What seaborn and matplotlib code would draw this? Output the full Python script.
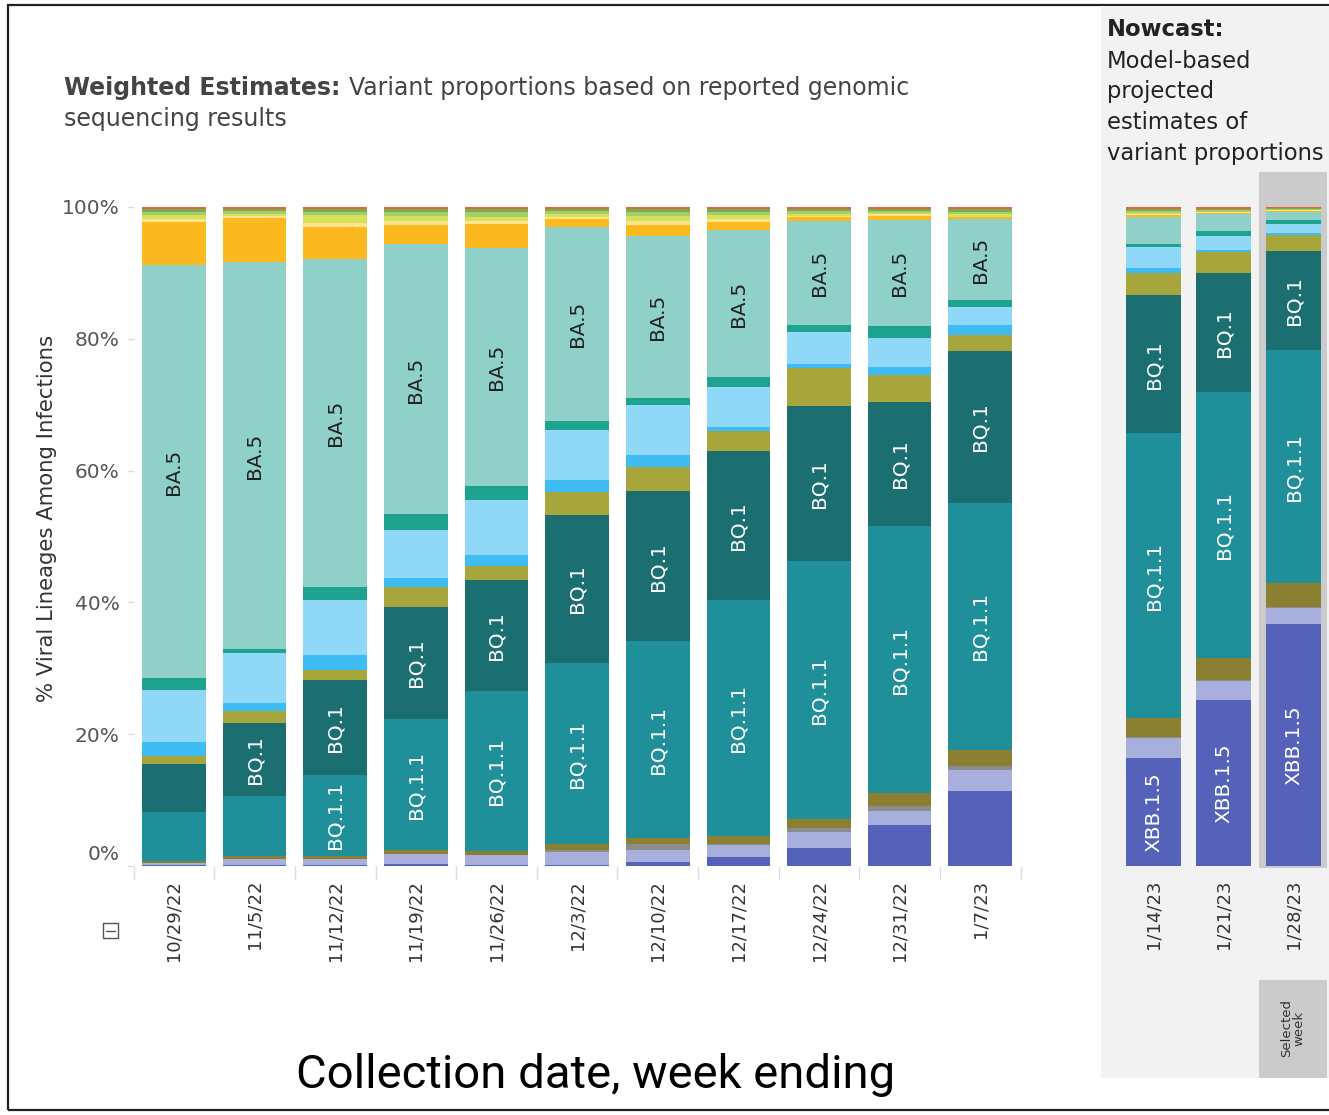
import numpy as np
import pandas as pd
import seaborn as sns
import matplotlib
matplotlib.use("Agg")
import matplotlib.pyplot as plt
from matplotlib.patches import Rectangle
from matplotlib.transforms import ScaledTranslation

# ---------------- data ----------------
weeks = ["10/29/22", "11/5/22", "11/12/22", "11/19/22", "11/26/22", "12/3/22",
         "12/10/22", "12/17/22", "12/24/22", "12/31/22", "1/7/23"]
nowcast_weeks = ["1/14/23", "1/21/23", "1/28/23"]

# proportions (%), stacked bottom -> top; 11 weighted weeks followed by 3 nowcast weeks
xbb_1_5  = [0.1, 0.2, 0.2, 0.3, 0.2, 0.1, 0.6, 1.3, 2.8, 6.2, 11.5, 16.4, 25.2, 36.8]
xbb      = [0.3, 0.8, 0.8, 1.5, 1.4, 2.1, 1.8, 1.9, 2.4, 2.2, 3.1, 3.0, 2.9, 2.3]
other    = [0.1, 0.1, 0.1, 0.1, 0.1, 0.3, 0.9, 0.1, 0.6, 0.7, 0.6, 0.2, 0.2, 0.2]
bn_1     = [0.3, 0.4, 0.4, 0.5, 0.6, 0.8, 1.0, 1.2, 1.3, 2.1, 2.5, 2.9, 3.3, 3.6]
bq_1_1   = [7.4, 9.1, 12.4, 20.0, 24.3, 27.5, 29.9, 35.9, 39.3, 40.6, 37.7, 43.3, 40.3, 35.5]
bq_1     = [7.3, 11.2, 14.4, 17.0, 16.9, 22.5, 22.8, 22.7, 23.7, 19.0, 23.1, 21.0, 18.1, 14.9]
bf_7     = [1.2, 1.8, 1.5, 3.0, 2.1, 3.4, 3.7, 3.1, 5.7, 4.1, 2.5, 3.4, 3.1, 2.5]
ba_5_2_6 = [2.1, 1.2, 2.3, 1.5, 1.7, 1.9, 1.9, 0.6, 0.7, 1.2, 1.5, 0.8, 0.4, 0.35]
bf_11    = [7.9, 7.6, 8.3, 7.3, 8.3, 7.5, 7.5, 6.0, 4.9, 4.4, 2.8, 3.1, 2.1, 1.3]
ba_2_75  = [1.8, 0.6, 2.0, 2.3, 2.2, 1.5, 1.2, 1.5, 1.0, 1.8, 1.0, 0.5, 0.7, 0.6]
ba_5     = [62.7, 58.9, 49.9, 41.1, 36.2, 29.3, 24.6, 22.4, 15.8, 16.2, 12.4, 4.1, 2.6, 1.3]
ba_4_6   = [6.5, 6.7, 4.9, 3.0, 3.6, 1.3, 1.7, 1.2, 0.7, 0.7, 0.3, 0.3, 0.2, 0.1]
ba_2_75_2 = [0.5, 0.3, 0.6, 0.5, 0.4, 0.3, 0.5, 0.4, 0.2, 0.2, 0.0, 0.1, 0.1, 0.1]
ba_4     = [0.6, 0.4, 1.2, 0.9, 0.7, 0.4, 0.8, 0.7, 0.3, 0.2, 0.4, 0.2, 0.1, 0.1]
ba_2     = [0.5, 0.4, 0.5, 0.6, 0.8, 0.5, 0.7, 0.5, 0.4, 0.3, 0.4, 0.3, 0.2, 0.1]
ba_1_1   = [0.4, 0.3, 0.4, 0.4, 0.4, 0.3, 0.4, 0.4, 0.3, 0.3, 0.4, 0.3, 0.2, 0.1]
b_1_1_529 = [0.3, 0.3, 0.3, 0.3, 0.3, 0.3, 0.3, 0.3, 0.3, 0.3, 0.3, 0.3, 0.3, 0.2]

variants = ["XBB.1.5", "XBB", "Other", "BN.1", "BQ.1.1", "BQ.1", "BF.7", "BA.5.2.6",
            "BF.11", "BA.2.75", "BA.5", "BA.4.6", "BA.2.75.2", "BA.4", "BA.2",
            "BA.1.1", "B.1.1.529"]
series = [xbb_1_5, xbb, other, bn_1, bq_1_1, bq_1, bf_7, ba_5_2_6, bf_11, ba_2_75,
          ba_5, ba_4_6, ba_2_75_2, ba_4, ba_2, ba_1_1, b_1_1_529]
colors = ["#5462b9", "#a9afdc", "#8c8c8c", "#8b7f31", "#1f8f99", "#1c6f71", "#a7a63d",
          "#40bcf5", "#8fd8f8", "#1ea38f", "#8fd1c9", "#fcb81f", "#fde38a", "#d5e05b",
          "#a6cd6b", "#72b04f", "#e4643c"]

# ---------------- figure ----------------
sns.set_theme(style="white")
plt.rcParams['font.family'] = ['DejaVu Sans']

W, H = 1329, 1115
fig = plt.figure(figsize=(W / 100, H / 100), dpi=100)


def fx(px):
    return px / W


def fy(py):
    return 1 - py / H


# frame and nowcast panel background (drawn behind the axes)
fig.patches.append(Rectangle((fx(8), fy(1110)), fx(1345) - fx(8), fy(5) - fy(1110),
                             transform=fig.transFigure, fill=False, ec="#222222", lw=1.6, zorder=-3))
fig.patches.append(Rectangle((fx(1101), fy(1078)), fx(1335) - fx(1101), fy(6) - fy(1078),
                             transform=fig.transFigure, fc="#f2f2f2", ec="none", zorder=-2))
fig.patches.append(Rectangle((fx(1259), fy(868)), fx(1327) - fx(1259), fy(172) - fy(868),
                             transform=fig.transFigure, fc="#cbcbcb", ec="none", zorder=-1))
fig.patches.append(Rectangle((fx(1259), fy(1078)), fx(1327) - fx(1259), fy(980) - fy(1078),
                             transform=fig.transFigure, fc="#cbcbcb", ec="none", zorder=-1))

df = pd.DataFrame(dict(zip(variants, series)), index=weeks + nowcast_weeks)
df = df.div(df.sum(axis=1), axis=0) * 100
cum = df.cumsum(axis=1)

ax = fig.add_axes([fx(133.6), fy(866), fx(887), 659 / H])
ax2 = fig.add_axes([fx(1118.5), fy(866), fx(210), 659 / H])
ax2.patch.set_alpha(0)


def draw(axis, idx, label_set):
    sub = cum.loc[idx]
    for v, c in reversed(list(zip(variants, colors))):
        d = pd.DataFrame({"week": idx, "val": sub[v].values})
        sns.barplot(data=d, x="week", y="val", color=c, saturation=1, width=0.79,
                    order=idx, ax=axis, linewidth=0)
    for i, w in enumerate(idx):
        for v in label_set:
            val = df.loc[w, v]
            if val >= 11:
                yc = cum.loc[w, v] - val / 2
                axis.text(i, yc, v, rotation=90, ha="center", va="center",
                          fontsize=14.5, color="#222222" if v == "BA.5" else "white")
    axis.set_ylim(0, 100)
    axis.set_xlabel("")
    axis.set_ylabel("")
    for s in axis.spines.values():
        s.set_visible(False)
    axis.set_xlim(-0.5, len(idx) - 0.5)
    axis.set_xticks(range(len(idx)))
    axis.set_xticklabels(idx, rotation=90, fontsize=13, color="#333333")
    axis.tick_params(axis="x", which="major", length=0, pad=10)


draw(ax, weeks, ["BA.5", "BQ.1", "BQ.1.1"])
draw(ax2, nowcast_weeks, ["BA.5", "BQ.1", "BQ.1.1", "XBB.1.5"])

ax.set_xticks(np.arange(-0.5, len(weeks), 1), minor=True)
ax.tick_params(axis="x", which="minor", bottom=True, length=10, width=1, color="#dddddd")
ax.set_yticks([0, 20, 40, 60, 80, 100])
ax.set_yticklabels(["0%", "20%", "40%", "60%", "80%", "100%"], fontsize=14.5, color="#555555")
ax.tick_params(axis="y", left=True, length=5, width=1, color="#dddddd", pad=5)
lbl0 = ax.get_yticklabels()[0]
lbl0.set_transform(lbl0.get_transform() + ScaledTranslation(0, 14 / 100, fig.dpi_scale_trans))
ax2.set_yticks([])

# texts
t1 = fig.text(fx(64), fy(88), "Weighted Estimates:", fontsize=17, fontweight="bold",
              color="#444444", ha="left", va="center")
fig.canvas.draw()
bb = t1.get_window_extent()
fig.text((bb.x1 + 9) / W, fy(88), "Variant proportions based on reported genomic",
         fontsize=17, color="#444444", ha="left", va="center")
fig.text(fx(64), fy(119), "sequencing results", fontsize=17, color="#444444",
         ha="left", va="center")

fig.text(fx(1107), fy(30), "Nowcast:", fontsize=16.3, fontweight="bold", color="#222222",
         ha="left", va="center")
for k, line in enumerate(["Model-based", "projected", "estimates of", "variant proportions"]):
    fig.text(fx(1107), fy(61 + 30.7 * k), line, fontsize=16.3, color="#222222",
             ha="left", va="center")

fig.text(fx(47), fy(518), "% Viral Lineages Among Infections", rotation=90, fontsize=15.3,
         color="#333333", ha="center", va="center")

fig.text(fx(1293), fy(1028), "Selected\nweek", rotation=90, fontsize=9.5, color="#333333",
         ha="center", va="center", linespacing=0.9)

fig.text(fx(596), fy(1075), "Collection date, week ending", fontsize=34,
         family=["Roboto", "DejaVu Sans"], color="black", ha="center", va="center")

# collapse icon
fig.patches.append(Rectangle((fx(103), fy(938)), fx(15), 15 / H, transform=fig.transFigure,
                             fill=False, ec="#555555", lw=1, zorder=3))
fig.lines.append(plt.Line2D([fx(106), fx(115)], [fy(930.5), fy(930.5)],
                            transform=fig.transFigure, color="#555555", lw=1))

fig.savefig("out.png", dpi=100)
